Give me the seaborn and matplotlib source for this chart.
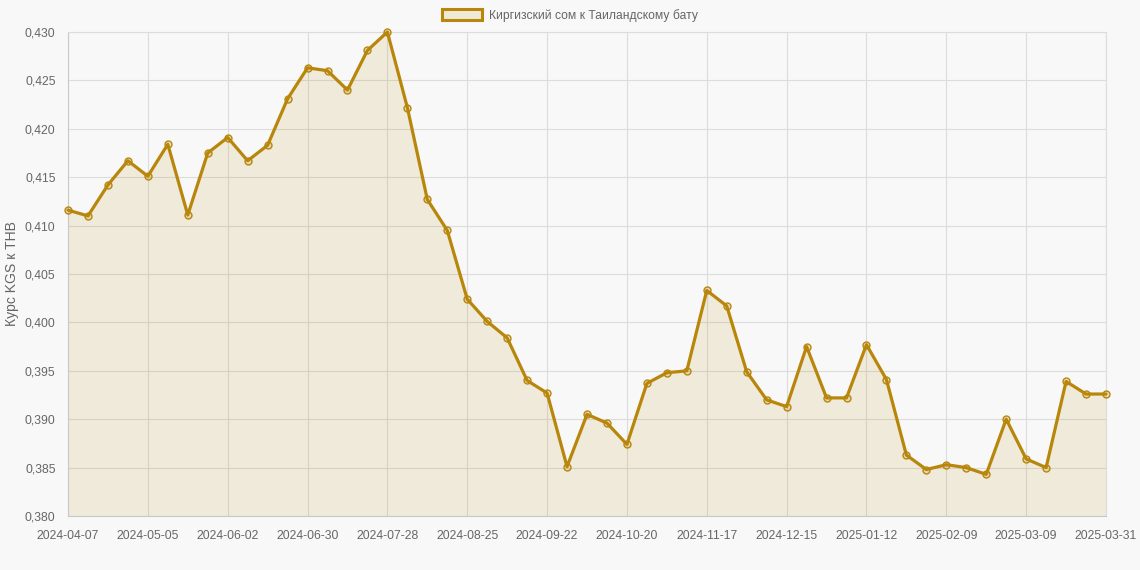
import numpy as np
import pandas as pd
import matplotlib
matplotlib.use("Agg")
import matplotlib.pyplot as plt
from matplotlib.patches import Patch
from matplotlib.ticker import FuncFormatter, FixedLocator
import seaborn as sns

dates = [
    "2024-04-07", "2024-04-14", "2024-04-21", "2024-04-28", "2024-05-05", "2024-05-12",
    "2024-05-19", "2024-05-26", "2024-06-02", "2024-06-09", "2024-06-16", "2024-06-23",
    "2024-06-30", "2024-07-07", "2024-07-14", "2024-07-21", "2024-07-28", "2024-08-04",
    "2024-08-11", "2024-08-18", "2024-08-25", "2024-09-01", "2024-09-08", "2024-09-15",
    "2024-09-22", "2024-09-29", "2024-10-06", "2024-10-13", "2024-10-20", "2024-10-27",
    "2024-11-03", "2024-11-10", "2024-11-17", "2024-11-24", "2024-12-01", "2024-12-08",
    "2024-12-15", "2024-12-22", "2024-12-29", "2025-01-05", "2025-01-12", "2025-01-19",
    "2025-01-26", "2025-02-02", "2025-02-09", "2025-02-16", "2025-02-23", "2025-03-02",
    "2025-03-09", "2025-03-16", "2025-03-23", "2025-03-30", "2025-03-31",
]
rates = [
    0.4116, 0.4110, 0.4142, 0.4167, 0.4151, 0.4184, 0.4111, 0.4175, 0.4191, 0.4167,
    0.4183, 0.4231, 0.4263, 0.4260, 0.4240, 0.4281, 0.4300, 0.4222, 0.4127, 0.4095,
    0.4024, 0.4001, 0.3984, 0.3940, 0.3927, 0.3851, 0.3905, 0.3896, 0.3874, 0.3937,
    0.3948, 0.3950, 0.4033, 0.4017, 0.3949, 0.3920, 0.3913, 0.3975, 0.3922, 0.3922,
    0.3977, 0.3941, 0.3863, 0.3848, 0.3853, 0.3850, 0.3843, 0.3900, 0.3859, 0.3850,
    0.3939, 0.3926, 0.3926,
]
tick_labels = ["2024-04-07", "2024-05-05", "2024-06-02", "2024-06-30", "2024-07-28",
               "2024-08-25", "2024-09-22", "2024-10-20", "2024-11-17", "2024-12-15",
               "2025-01-12", "2025-02-09", "2025-03-09", "2025-03-31"]
series_label = "Киргизский сом к Таиландскому бату"
y_title = "Курс KGS к THB"

df = pd.DataFrame({"pos": np.arange(len(dates)), "date": dates, "rate": rates})

sns.set_style("whitegrid")
plt.rcParams["font.family"] = ["Liberation Sans", "DejaVu Sans"]

BG = "#f8f8f8"
LINE = "#b8860b"
GRID = "#dcdcdc"
TXT = "#666666"

fig = plt.figure(figsize=(11.4, 5.7), dpi=100, facecolor=BG)
ax = fig.add_axes([68 / 1140, 1 - 516 / 570, (1106 - 68) / 1140, (516 - 32) / 570])
ax.set_facecolor(BG)

ax.fill_between(df["pos"], df["rate"], 0.38, color=LINE, alpha=0.12, linewidth=0, zorder=1)
sns.lineplot(data=df, x="pos", y="rate", ax=ax, color=LINE, linewidth=2.3,
             marker="o", markersize=5, markerfacecolor=(184 / 255, 134 / 255, 11 / 255, 0.2),
             markeredgecolor=LINE, markeredgewidth=1.0, zorder=3, legend=False, clip_on=False)

ax.set_xlim(0, len(dates) - 1)
ax.set_ylim(0.380, 0.430)
tick_pos = [dates.index(t) for t in tick_labels]
ax.xaxis.set_major_locator(FixedLocator(tick_pos))
ax.set_xticklabels(tick_labels)
ax.set_yticks(np.round(np.arange(0.380, 0.4301, 0.005), 3))
ax.yaxis.set_major_formatter(FuncFormatter(lambda v, p: f"{v:.3f}".replace(".", ",")))

ax.grid(True, color=GRID, linewidth=0.8)
ax.set_axisbelow(True)
ax.tick_params(axis="both", which="major", length=6, width=0.8, color=GRID,
               labelsize=8.7, labelcolor=TXT)
ax.tick_params(axis="y", pad=3)
ax.tick_params(axis="x", pad=4)
for s in ["left", "bottom"]:
    ax.spines[s].set_color("#c8c8c8")
    ax.spines[s].set_linewidth(0.8)
for s in ["top", "right"]:
    ax.spines[s].set_color(GRID)
    ax.spines[s].set_linewidth(0.8)
ax.set_xlabel("")
ax.set_ylabel("")

fig.text(12 / 1140, 1 - 274 / 570, y_title, rotation=90, ha="center", va="center",
         fontsize=10.1, color=TXT)

handle = Patch(facecolor="#efe9d8", edgecolor=LINE, linewidth=2.2, label=series_label)
fig.legend(handles=[handle], loc="center", bbox_to_anchor=(0.5, 1 - 15.5 / 570),
           frameon=False, fontsize=8.7, labelcolor=TXT, handlelength=3.3,
           handleheight=1.0, handletextpad=0.55, borderaxespad=0, borderpad=0)

fig.savefig("out.png", dpi=100, facecolor=BG)
